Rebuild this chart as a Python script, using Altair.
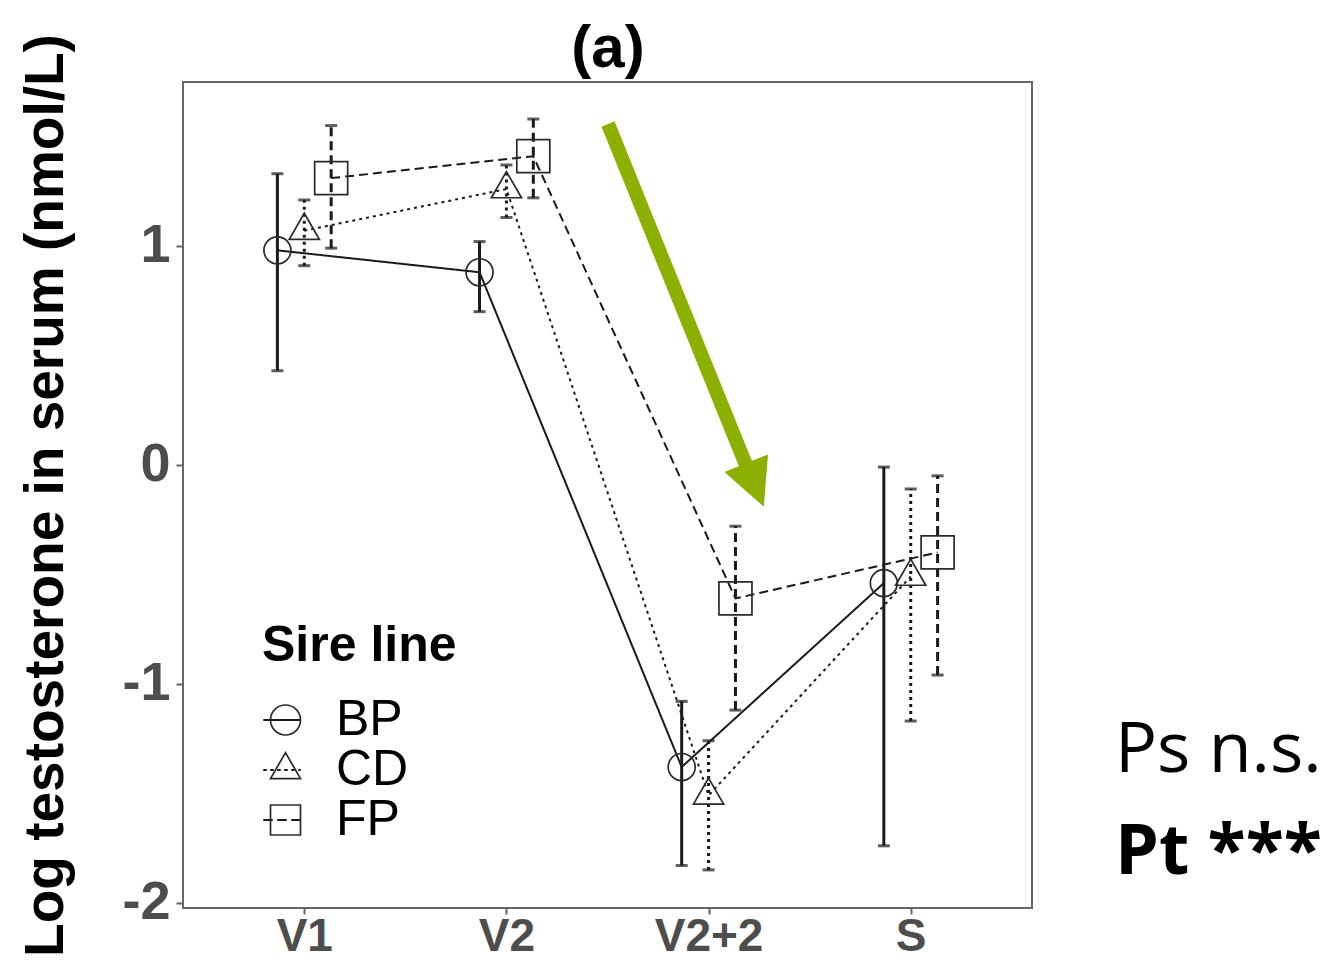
import json
import altair as alt
import pandas as pd

# ---- data ----
visits = ["V1", "V2", "V2+2", "S"]
lines = ["BP", "CD", "FP"]

mean_BP = [0.98, 0.88, -1.38, -0.54]
lo_BP = [0.43, 0.70, -1.83, -1.74]
hi_BP = [1.33, 1.02, -1.08, -0.01]

mean_CD = [1.07, 1.26, -1.51, -0.51]
lo_CD = [0.91, 1.13, -1.85, -1.17]
hi_CD = [1.21, 1.37, -1.26, -0.11]

mean_FP = [1.31, 1.41, -0.61, -0.40]
lo_FP = [0.99, 1.22, -1.12, -0.96]
hi_FP = [1.55, 1.58, -0.28, -0.05]

panel_title = ["(a)"]
notes = ["Ps n.s.", "Pt ***"]

# ---- build table ----
series = {"BP": (mean_BP, lo_BP, hi_BP), "CD": (mean_CD, lo_CD, hi_CD), "FP": (mean_FP, lo_FP, hi_FP)}
rows = []
for ln in lines:
    m, lo, hi = series[ln]
    for i, v in enumerate(visits):
        rows.append({"visit": v, "idx": i, "line": ln, "line2": ln, "mean": m[i], "lo": lo[i], "hi": hi[i]})
df = pd.DataFrame(rows)

dodge = {"BP": -0.133, "CD": 0.0, "FP": 0.133}
dodge_expr = "datum.idx + (datum.line == 'BP' ? {BP} : datum.line == 'FP' ? {FP} : 0)".format(**dodge)

NARROW = "Liberation Sans Narrow, Liberation Sans, Arial, sans-serif"
SANS = "Liberation Sans, Arial, sans-serif"
INK = "#1a1a1a"

label_expr = json.dumps(visits) + "[datum.value]"

x_enc = alt.X(
    "xpos:Q",
    scale=alt.Scale(domain=[-0.6, 3.6], nice=False, zero=False),
    axis=alt.Axis(
        values=[0, 1, 2, 3], labelExpr=label_expr, title=None, grid=False, domain=False,
        labelFont=NARROW, labelFontSize=46, labelFontWeight="bold", labelColor="#4d4d4d",
        tickColor="#666666", tickSize=6, tickWidth=2, labelPadding=0,
    ),
)
y_scale = alt.Scale(domain=[-2.024, 1.749], nice=False, zero=False)
y_axis = alt.Axis(
    values=[-2, -1, 0, 1], grid=False, domain=False,
    labelExpr="datum.value < 0 ? '-' + abs(datum.value) : '' + datum.value",
    labelFont=NARROW, labelFontSize=54, labelFontWeight="bold", labelColor="#4d4d4d",
    tickColor="#666666", tickSize=7, tickWidth=2, labelPadding=6,
    title="Log testosterone in serum (nmol/L)", titleFont=NARROW, titleFontSize=55,
    titleFontWeight="bold", titleColor="black", titleX=-138, titleY=413,
    titleAngle=270, titleAlign="center", titleBaseline="middle", titleLimit=2000,
)

shape_range = ["circle", "M0,-1.155L1,0.577L-1,0.577Z", "square"]

legend_common = dict(
    title="Sire line", orient="none", legendX=79, legendY=539, padding=0,
    titleFont=SANS, titleFontSize=50, titleFontWeight="bold", titlePadding=24,
    titleColor="black", labelColor="black", titleLimit=1000, labelLimit=1000,
    labelFont=SANS, labelFontSize=50, rowPadding=-4,
)

dash_enc = alt.StrokeDash(
    "line2:N",
    scale=alt.Scale(domain=lines, range=[[1, 0], [3, 4], [9, 5]]),
    legend=alt.Legend(
        symbolType="stroke", symbolSize=1369, symbolStrokeWidth=2, symbolStrokeColor=INK,
        symbolOffset=-5, labelOffset=24, labelOpacity=0, titleOpacity=0,
        **legend_common,
    ),
)

base = alt.Chart(df).transform_calculate(xpos=dodge_expr)

line_layer = base.mark_line(color=INK, strokeWidth=2).encode(
    x=x_enc,
    y=alt.Y("mean:Q", scale=y_scale, axis=y_axis),
    strokeDash=dash_enc,
    detail="line:N",
    order="idx:Q",
)

err_layer = base.mark_rule(color=INK, strokeWidth=3).encode(
    x="xpos:Q",
    y="lo:Q",
    y2="hi:Q",
    strokeDash=dash_enc,
)

cap_lo = base.mark_tick(color=INK, orient="horizontal", size=12, thickness=3).encode(
    x="xpos:Q", y="lo:Q"
)
cap_hi = base.mark_tick(color=INK, orient="horizontal", size=12, thickness=3).encode(
    x="xpos:Q", y="hi:Q"
)

pt_layer = base.mark_point(filled=False, color="#2a2a2a", strokeWidth=1.7, opacity=1).encode(
    x="xpos:Q",
    y="mean:Q",
    shape=alt.Shape(
        "line:N",
        scale=alt.Scale(domain=lines, range=shape_range),
        legend=alt.Legend(
            symbolSize=900, symbolStrokeWidth=1.7, symbolStrokeColor="#2a2a2a",
            symbolOffset=-1.5, labelOffset=25.5,
            **legend_common,
        ),
    ),
    size=alt.Size("line:N", scale=alt.Scale(domain=lines, range=[729, 1089, 729]), legend=None),
)

# ---- green annotation arrow ----
one = pd.DataFrame({"k": [0]})
GREEN = "#8cb000"
arrow_shaft = alt.Chart(one).mark_rule(color=GREEN, strokeWidth=14, strokeCap="butt").encode(
    x=alt.value(425), y=alt.value(42), x2=alt.value(563), y2=alt.value(383)
)
arrow_head = alt.Chart(one).mark_point(
    shape="M-1,-1L1,-1L0,1Z", filled=True, color=GREEN, size=2209, angle=338, opacity=1
).encode(x=alt.value(572), y=alt.value(403))

# ---- panel title and right-side notes ----
title_layer = alt.Chart(pd.DataFrame({"t": panel_title})).mark_text(
    align="center", baseline="alphabetic", font=SANS, fontSize=60, fontWeight="bold", color="black"
).encode(text="t:N", x=alt.value(425), y=alt.value(-15))

note1 = alt.Chart(pd.DataFrame({"t": [notes[0]]})).mark_text(
    align="left", baseline="alphabetic", font="Open Sans", fontSize=70, color="black"
).encode(text="t:N", x=alt.value(932), y=alt.value(690))
note2 = alt.Chart(pd.DataFrame({"t": [notes[1]]})).mark_text(
    align="left", baseline="alphabetic", font="Open Sans", fontSize=70, fontWeight="bold", color="black"
).encode(text="t:N", x=alt.value(932), y=alt.value(792))

chart = alt.layer(
    line_layer, err_layer, cap_lo, cap_hi, pt_layer, arrow_shaft, arrow_head,
    title_layer, note1, note2
).resolve_legend(
    strokeDash="independent", shape="independent"
).properties(
    width=849,
    height=826,
    background="white",
    autosize=alt.AutoSizeParams(type="none"),
    padding={"left": 175, "top": 74, "right": 296, "bottom": 53},
).configure_view(
    stroke="#666666", strokeWidth=2
)

chart.save("out.html", embed_options={"renderer": "svg", "actions": False})
